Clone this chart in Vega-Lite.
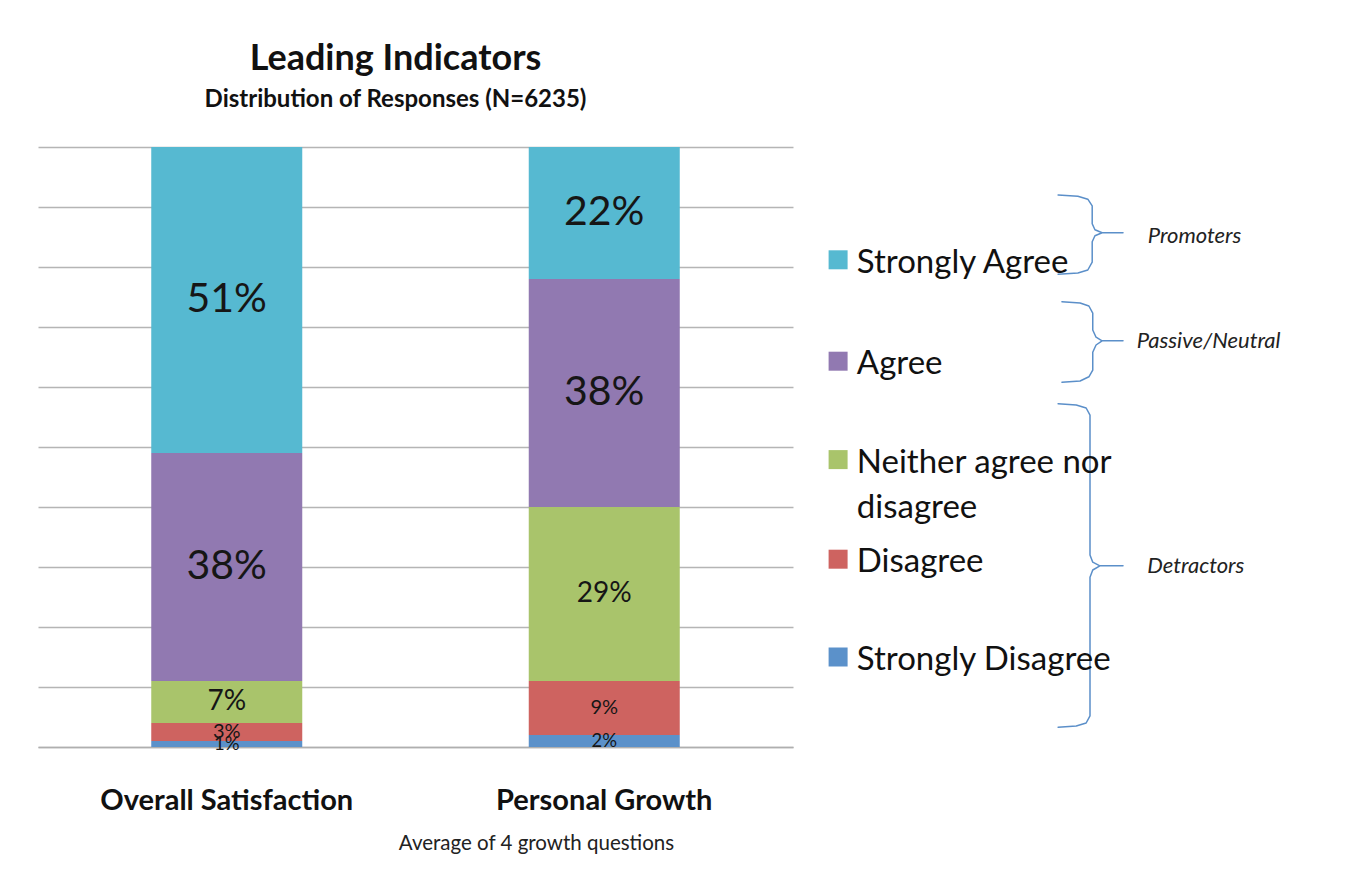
{
  "$schema": "https://vega.github.io/schema/vega-lite/v6.json",
  "background": "white",
  "autosize": {"type": "pad"},
  "padding": {"left": 38, "top": 41, "right": 6, "bottom": 0},
  "title": {
    "text": "Leading Indicators",
    "subtitle": "Distribution of Responses (N=6235)",
    "anchor": "middle",
    "dx": -295,
    "font": "Lato",
    "fontSize": 36,
    "fontWeight": "bold",
    "color": "#111111",
    "subtitleFont": "Lato",
    "subtitleFontSize": 24,
    "subtitleFontWeight": "bold",
    "subtitleColor": "#111111",
    "subtitlePadding": 10,
    "offset": 34
  },
  "config": {"view": {"stroke": null}, "font": "Lato"},
  "spacing": 0,
  "datasets": {
    "responses": [
      {"measure": "Overall Satisfaction", "response": "Strongly Disagree", "rank": 1, "pct": 1},
      {"measure": "Overall Satisfaction", "response": "Disagree", "rank": 2, "pct": 3},
      {"measure": "Overall Satisfaction", "response": "Neither agree nor disagree", "rank": 3, "pct": 7},
      {"measure": "Overall Satisfaction", "response": "Agree", "rank": 4, "pct": 38},
      {"measure": "Overall Satisfaction", "response": "Strongly Agree", "rank": 5, "pct": 51},
      {"measure": "Personal Growth", "response": "Strongly Disagree", "rank": 1, "pct": 2},
      {"measure": "Personal Growth", "response": "Disagree", "rank": 2, "pct": 9},
      {"measure": "Personal Growth", "response": "Neither agree nor disagree", "rank": 3, "pct": 29},
      {"measure": "Personal Growth", "response": "Agree", "rank": 4, "pct": 38},
      {"measure": "Personal Growth", "response": "Strongly Agree", "rank": 5, "pct": 22}
    ],
    "legendItems": [
      {"response": "Strongly Agree", "label": "Strongly Agree", "y": 81.2},
      {"response": "Agree", "label": "Agree", "y": 64.3},
      {"response": "Neither agree nor disagree", "label": "Neither agree nor\ndisagree", "y": 47.9},
      {"response": "Disagree", "label": "Disagree", "y": 31.3},
      {"response": "Strongly Disagree", "label": "Strongly Disagree", "y": 15.0}
    ],
    "groups": [
      {"group": "Promoters", "x": 64.5, "y": 85.2},
      {"group": "Passive/Neutral", "x": 62.5, "y": 67.7},
      {"group": "Detractors", "x": 64.4, "y": 30.2}
    ],
    "braces": [
      {"group": "Promoters", "i": 1, "x": 48.2, "y": 92.0},
      {"group": "Promoters", "i": 2, "x": 51.8, "y": 91.8},
      {"group": "Promoters", "i": 3, "x": 53.6, "y": 91.3},
      {"group": "Promoters", "i": 4, "x": 54.4, "y": 90.2},
      {"group": "Promoters", "i": 5, "x": 54.4, "y": 87.2},
      {"group": "Promoters", "i": 6, "x": 54.9, "y": 86.2},
      {"group": "Promoters", "i": 7, "x": 56.2, "y": 85.7},
      {"group": "Promoters", "i": 8, "x": 60.0, "y": 85.7},
      {"group": "Promoters", "i": 9, "x": 56.2, "y": 85.7},
      {"group": "Promoters", "i": 10, "x": 54.9, "y": 85.2},
      {"group": "Promoters", "i": 11, "x": 54.4, "y": 84.2},
      {"group": "Promoters", "i": 12, "x": 54.4, "y": 80.8},
      {"group": "Promoters", "i": 13, "x": 53.6, "y": 79.5},
      {"group": "Promoters", "i": 14, "x": 51.8, "y": 79.0},
      {"group": "Promoters", "i": 15, "x": 48.2, "y": 78.8},
      {"group": "Passive/Neutral", "i": 1, "x": 48.9, "y": 74.2},
      {"group": "Passive/Neutral", "i": 2, "x": 52.2, "y": 74.0},
      {"group": "Passive/Neutral", "i": 3, "x": 53.8, "y": 73.5},
      {"group": "Passive/Neutral", "i": 4, "x": 54.5, "y": 72.3},
      {"group": "Passive/Neutral", "i": 5, "x": 54.5, "y": 69.5},
      {"group": "Passive/Neutral", "i": 6, "x": 55.1, "y": 68.3},
      {"group": "Passive/Neutral", "i": 7, "x": 56.2, "y": 67.7},
      {"group": "Passive/Neutral", "i": 8, "x": 60.0, "y": 67.7},
      {"group": "Passive/Neutral", "i": 9, "x": 56.2, "y": 67.7},
      {"group": "Passive/Neutral", "i": 10, "x": 55.1, "y": 67.0},
      {"group": "Passive/Neutral", "i": 11, "x": 54.5, "y": 65.8},
      {"group": "Passive/Neutral", "i": 12, "x": 54.5, "y": 62.8},
      {"group": "Passive/Neutral", "i": 13, "x": 53.8, "y": 61.7},
      {"group": "Passive/Neutral", "i": 14, "x": 52.2, "y": 61.0},
      {"group": "Passive/Neutral", "i": 15, "x": 48.9, "y": 60.8},
      {"group": "Detractors", "i": 1, "x": 48.2, "y": 57.2},
      {"group": "Detractors", "i": 2, "x": 51.5, "y": 57.0},
      {"group": "Detractors", "i": 3, "x": 53.3, "y": 56.5},
      {"group": "Detractors", "i": 4, "x": 54.0, "y": 55.3},
      {"group": "Detractors", "i": 5, "x": 54.0, "y": 32.0},
      {"group": "Detractors", "i": 6, "x": 54.5, "y": 30.8},
      {"group": "Detractors", "i": 7, "x": 55.8, "y": 30.2},
      {"group": "Detractors", "i": 8, "x": 60.0, "y": 30.2},
      {"group": "Detractors", "i": 9, "x": 55.8, "y": 30.2},
      {"group": "Detractors", "i": 10, "x": 54.5, "y": 29.5},
      {"group": "Detractors", "i": 11, "x": 54.0, "y": 28.3},
      {"group": "Detractors", "i": 12, "x": 54.0, "y": 5.2},
      {"group": "Detractors", "i": 13, "x": 53.3, "y": 4.0},
      {"group": "Detractors", "i": 14, "x": 51.5, "y": 3.5},
      {"group": "Detractors", "i": 15, "x": 48.2, "y": 3.3}
    ]
  },
  "hconcat": [
    {
      "width": 755,
      "height": 600,
      "data": {"name": "responses"},
      "transform": [
        {"stack": "pct", "groupby": ["measure"], "sort": [{"field": "rank"}], "as": ["y0", "y1"]},
        {"calculate": "(datum.y0 + datum.y1) / 2", "as": "ymid"},
        {"calculate": "datum.pct + '%'", "as": "label"}
      ],
      "encoding": {
        "x": {
          "field": "measure",
          "type": "nominal",
          "sort": null,
          "scale": {"paddingInner": 0.6, "paddingOuter": 0.3},
          "axis": {
            "title": "Average of 4 growth questions",
            "titleX": 498,
            "titleAlign": "center",
            "titleFontSize": 20.5,
            "titleFontWeight": "normal",
            "titleColor": "#222222",
            "titlePadding": 18,
            "labelAngle": 0,
            "labelFontSize": 29,
            "labelFontWeight": "bold",
            "labelColor": "#111111",
            "labelPadding": 39,
            "labelLimit": 500,
            "ticks": false,
            "domainColor": "#AFAFAF",
            "domainWidth": 1.5
          }
        }
      },
      "layer": [
        {
          "mark": {"type": "bar"},
          "encoding": {
            "y": {
              "field": "y0",
              "type": "quantitative",
              "scale": {"domain": [0, 100], "nice": false},
              "axis": {
                "title": null,
                "labels": false,
                "ticks": false,
                "domain": false,
                "values": [0, 10, 20, 30, 40, 50, 60, 70, 80, 90, 100],
                "grid": true,
                "gridColor": "#B5B5B5",
                "gridWidth": 1.5
              }
            },
            "y2": {"field": "y1"},
            "color": {
              "field": "response",
              "type": "nominal",
              "scale": {
                "domain": ["Strongly Agree", "Agree", "Neither agree nor disagree", "Disagree", "Strongly Disagree"],
                "range": ["#56B9D1", "#9179B1", "#A9C46B", "#CE6360", "#5B91CA"]
              },
              "legend": null
            }
          }
        },
        {
          "mark": {"type": "text", "color": "#161616", "baseline": "middle", "align": "center"},
          "encoding": {
            "y": {"field": "ymid", "type": "quantitative"},
            "text": {"field": "label"},
            "size": {
              "field": "response",
              "type": "nominal",
              "scale": {
                "type": "ordinal",
                "domain": ["Strongly Agree", "Agree", "Neither agree nor disagree", "Disagree", "Strongly Disagree"],
                "range": [41, 41, 28, 20, 18.5]
              },
              "legend": null
            }
          }
        }
      ]
    },
    {
      "width": 550,
      "height": 600,
      "layer": [
        {
          "data": {"name": "braces"},
          "mark": {"type": "line", "color": "#5B8FC9", "strokeWidth": 1.5, "strokeJoin": "round", "strokeCap": "round"},
          "encoding": {
            "x": {"field": "x", "type": "quantitative", "scale": {"domain": [0, 100], "nice": false}, "axis": null},
            "y": {"field": "y", "type": "quantitative", "scale": {"domain": [0, 100], "nice": false}, "axis": null},
            "detail": {"field": "group"},
            "order": {"field": "i"}
          }
        },
        {
          "data": {"name": "legendItems"},
          "mark": {"type": "square", "size": 361, "filled": true, "opacity": 1},
          "encoding": {
            "x": {"datum": 8.2, "type": "quantitative"},
            "y": {"field": "y", "type": "quantitative"},
            "color": {
              "field": "response",
              "type": "nominal",
              "scale": {
                "domain": ["Strongly Agree", "Agree", "Neither agree nor disagree", "Disagree", "Strongly Disagree"],
                "range": ["#56B9D1", "#9179B1", "#A9C46B", "#CE6360", "#5B91CA"]
              },
              "legend": null
            }
          }
        },
        {
          "data": {"name": "legendItems"},
          "mark": {"type": "text", "align": "left", "baseline": "line-top", "lineHeight": 45, "lineBreak": "\n", "dy": -19, "fontSize": 33, "color": "#111111"},
          "encoding": {
            "x": {"datum": 11.6, "type": "quantitative"},
            "y": {"field": "y", "type": "quantitative"},
            "text": {"field": "label"}
          }
        },
        {
          "data": {"name": "groups"},
          "mark": {"type": "text", "align": "left", "baseline": "middle", "fontSize": 22, "fontStyle": "italic", "color": "#222222"},
          "encoding": {
            "x": {"field": "x", "type": "quantitative"},
            "y": {"field": "y", "type": "quantitative"},
            "text": {"field": "group"}
          }
        }
      ]
    }
  ]
}
